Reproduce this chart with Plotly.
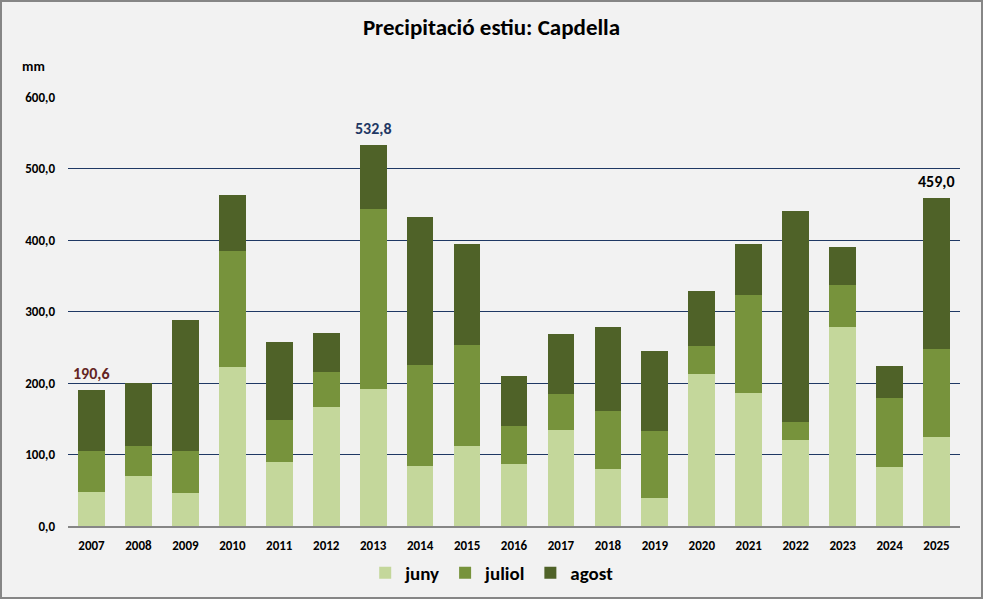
import plotly.graph_objects as go

years = ["2007", "2008", "2009", "2010", "2011", "2012", "2013", "2014", "2015", "2016",
         "2017", "2018", "2019", "2020", "2021", "2022", "2023", "2024", "2025"]
juny = [47.6, 70.4, 46.2, 222.4, 89.5, 166.4, 191.6, 83.9, 111.9, 86.7,
        134.3, 79.7, 39.2, 212.6, 186.0, 120.3, 278.3, 82.5, 124.5]
juliol = [57.3, 41.5, 58.7, 162.2, 58.8, 49.0, 251.8, 141.3, 141.2, 53.2,
          50.3, 81.1, 93.7, 39.1, 137.0, 25.2, 58.8, 96.5, 123.1]
agost = [85.7, 87.7, 183.2, 78.3, 109.0, 54.6, 89.4, 207.0, 141.3, 69.9,
         83.9, 117.5, 111.9, 77.0, 71.4, 295.1, 53.1, 44.8, 211.4]
y_ticks = [0, 100, 200, 300, 400, 500, 600]
label_years = ["2007", "2013", "2025"]
label_colors = ["#632523", "#1F3864", "#000000"]

FONT = "Carlito, Calibri, Lato, sans-serif"
W, H = 983, 599
L, R, T, B = 68, 23, 97, 73

fig = go.Figure()
for name, vals, col in [("juny", juny, "#C4D79B"), ("juliol", juliol, "#77933C"), ("agost", agost, "#4F6228")]:
    fig.add_trace(go.Bar(x=years, y=vals, name=name, marker=dict(color=col, line=dict(width=0))))

totals = [round(a + b + c, 1) for a, b, c in zip(juny, juliol, agost)]
for yr, col in zip(label_years, label_colors):
    i = years.index(yr)
    fig.add_annotation(x=i, y=totals[i], text=f"{totals[i]:.1f}".replace(".", ","),
                       showarrow=False, yanchor="bottom", yshift=5,
                       font=dict(family=FONT, size=16, color=col, weight="bold"))

pw, ph = W - L - R, H - T - B
fig.add_shape(type="rect", xref="paper", yref="paper",
              x0=-(L - 1) / pw, x1=1 + (R - 1) / pw, y0=-(B - 1) / ph, y1=1 + (T - 1) / ph,
              line=dict(color="#868686", width=2), layer="below")

fig.add_annotation(xref="paper", yref="paper", x=-(L - 20) / pw, y=1 + (T - 67) / ph,
                   text="mm", showarrow=False, xanchor="left", yanchor="middle",
                   font=dict(family=FONT, size=14, color="#000000", weight="bold"))

fig.update_layout(
    width=W, height=H,
    margin=dict(l=L, r=R, t=T, b=B, autoexpand=False),
    paper_bgcolor="#F2F2F2", plot_bgcolor="#F2F2F2",
    barmode="stack", bargap=0.43,
    separators=",.",
    title=dict(text="Precipitació estiu: Capdella", x=0.5, xanchor="center",
               y=1 - 27 / H, yanchor="middle",
               font=dict(family=FONT, size=23, color="#000000", weight="bold")),
    font=dict(family=FONT, color="#000000"),
    xaxis=dict(type="category", range=[-0.5, len(years) - 0.5], automargin=False,
               showgrid=False, showline=True, linecolor="#868686", linewidth=2,
               ticks="", tickfont=dict(family=FONT, size=13, color="#000000", weight="bold"),
               ticklabelstandoff=6),
    yaxis=dict(range=[0, 600], tickvals=y_ticks, tickformat=".1f", automargin=False,
               showgrid=True, gridcolor="#1F3864", gridwidth=1, zeroline=False,
               showline=False, ticks="",
               tickfont=dict(family=FONT, size=13, color="#000000", weight="bold"),
               ticklabelstandoff=12),
    legend=dict(orientation="h", x=0.475, xanchor="center", yref="container",
                y=1 - 573 / H, yanchor="middle",
                font=dict(family=FONT, size=19, color="#000000", weight="bold"),
                bgcolor="rgba(0,0,0,0)", itemwidth=30, traceorder="normal"),
    showlegend=True,
)
fig.write_html("out.html")
